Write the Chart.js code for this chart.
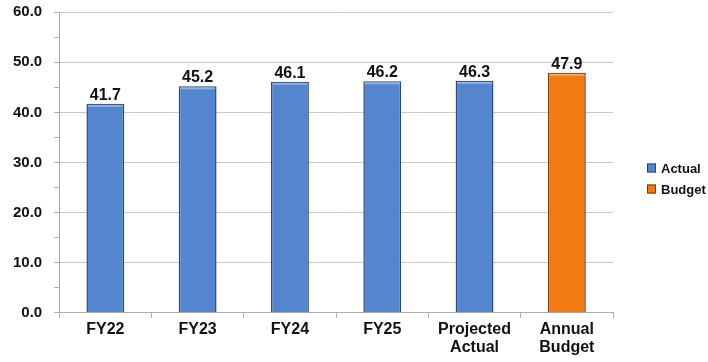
<!DOCTYPE html>
<html>
<head>
<meta charset="utf-8">
<script src="https://cdn.jsdelivr.net/npm/chart.js@4.4.1/dist/chart.umd.min.js"></script>
<style>
  html, body { margin: 0; padding: 0; background: #fff; }
  #wrap { width: 708px; height: 362px; }
</style>
</head>
<body>
<div id="wrap"><canvas id="budget-chart" width="708" height="362"></canvas></div>
<script>
const categories = [
  "FY22",
  "FY23",
  "FY24",
  "FY25",
  ["Projected", "Actual"],
  ["Annual", "Budget"]
];
const actualValues = [41.7, 45.2, 46.1, 46.2, 46.3, null];
const budgetValues = [null, null, null, null, null, 47.9];
const yTicks = [0, 10, 20, 30, 40, 50, 60];

const FONT = "'Liberation Sans', Arial, sans-serif";
const highlights = ["#8fb3e4", "#f9a75a"];

// lighter strip along the top of each bar, then the value above it
const valueLabels = {
  id: "valueLabels",
  afterDatasetsDraw(chart) {
    const ctx = chart.ctx;
    ctx.save();
    chart.data.datasets.forEach((ds, i) => {
      chart.getDatasetMeta(i).data.forEach((bar, j) => {
        if (ds.data[j] == null) return;
        ctx.fillStyle = highlights[i];
        ctx.fillRect(bar.x - bar.width / 2 + 1.5, bar.y + 1, bar.width - 3, 2);
      });
    });
    ctx.font = "bold 16px " + FONT;
    ctx.fillStyle = "#111";
    ctx.textAlign = "center";
    chart.data.datasets.forEach((ds, i) => {
      chart.getDatasetMeta(i).data.forEach((bar, j) => {
        const v = ds.data[j];
        if (v == null) return;
        ctx.fillText(v.toFixed(1), bar.x, bar.y - 4);
      });
    });
    ctx.restore();
  }
};

// small legend at the right, vertically centred
const sideLegend = {
  id: "sideLegend",
  afterDraw(chart) {
    const ctx = chart.ctx;
    const x = 647, yc = 168, gap = 21;
    ctx.save();
    ctx.font = "bold 13px " + FONT;
    ctx.textBaseline = "middle";
    ctx.textAlign = "left";
    chart.data.datasets.forEach((ds, i) => {
      const y = yc + i * gap;
      ctx.fillStyle = ds.backgroundColor;
      ctx.fillRect(x, y - 4.5, 9, 9);
      ctx.strokeStyle = ds.borderColor;
      ctx.lineWidth = 1;
      ctx.strokeRect(x + 0.5, y - 4, 8, 8);
      ctx.fillStyle = "#111";
      ctx.fillText(ds.label, x + 14, y + 1);
    });
    ctx.restore();
  }
};

new Chart("budget-chart", {
  type: "bar",
  data: {
    labels: categories,
    datasets: [{
      label: "Actual",
      data: actualValues,
      backgroundColor: "#5486cf",
      borderColor: "#2c4874",
      borderWidth: 1.5,
      barPercentage: 0.82,
      categoryPercentage: 0.5,
      skipNull: true
    }, {
      label: "Budget",
      data: budgetValues,
      backgroundColor: "#f27a12",
      borderColor: "#7a3c0a",
      borderWidth: 1.5,
      barPercentage: 0.82,
      categoryPercentage: 0.5,
      skipNull: true
    }]
  },
  options: {
    responsive: false,
    animation: false,
    layout: { padding: { top: 12, right: 95, left: 1, bottom: 3 } },
    plugins: {
      legend: { display: false },
      tooltip: { enabled: false }
    },
    scales: {
      x: {
        grid: { offset: true, drawOnChartArea: false, color: "#acacac", tickLength: 5 },
        border: { color: "#acacac" },
        ticks: {
          font: { family: FONT, size: 16, weight: "bold", lineHeight: 1.1 },
          color: "#111", maxRotation: 0, padding: 3
        }
      },
      y: {
        min: yTicks[0],
        max: yTicks[yTicks.length - 1],
        grid: {
          color: (c) => (c.tick.value % 10 === 0 ? "#c8c8c8" : "rgba(0,0,0,0)"),
          tickColor: "#acacac", tickLength: 5
        },
        border: { color: "#acacac" },
        ticks: {
          stepSize: 5,
          font: { family: FONT, size: 15, weight: "bold", lineHeight: 0.02 },
          color: "#111", padding: 12,
          callback: (v) => (yTicks.includes(v) ? v.toFixed(1) : "")
        }
      }
    }
  },
  plugins: [valueLabels, sideLegend]
});
</script>
</body>
</html>
